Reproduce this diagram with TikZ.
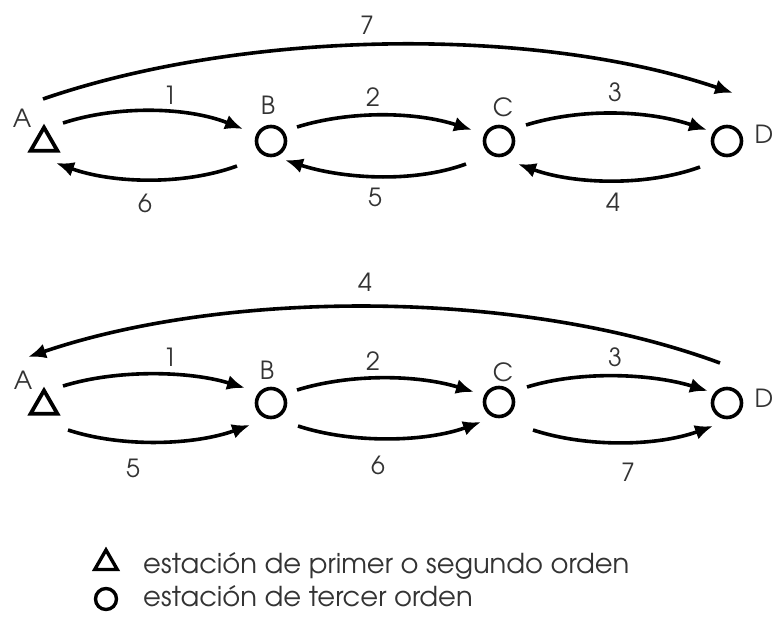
\documentclass[tikz,border=0pt]{standalone}
\usepackage{fontspec}
\setmainfont{texgyreadventor-regular.otf}
\usetikzlibrary{arrows.meta,shapes.geometric,calc}
\begin{document}
\begin{tikzpicture}[x=1pt,y=-1pt,
  tri/.style={draw,line width=3.8pt,regular polygon,regular polygon sides=3,minimum size=31pt,inner sep=0pt},
  stn/.style={draw,line width=3.6pt,circle,minimum size=29pt,inner sep=0pt},
  arr/.style={line width=3.6pt,-{Latex[length=18pt,width=15pt]}},
  lbl/.style={font=\fontsize{25}{25}\selectfont,text=black!80,inner sep=0pt},
  num/.style={font=\fontsize{25}{25}\selectfont,text=black!80,inner sep=0pt},
  leg/.style={font=\fontsize{27.4}{27.4}\selectfont,text=black!80,inner sep=0pt,anchor=base west}]
\useasboundingbox (0,0) rectangle (774,624);
% ---- top diagram ----
\node[tri] (A) at (44,143) {};
\node[stn] (B) at (271,141) {};
\node[stn] (C) at (499,141) {};
\node[stn] (D) at (727,141) {};
\node[lbl] (lA) at (22,118) {A};
\node[lbl] (lB) at (268,105) {B};
\node[lbl] (lC) at (503,107) {C};
\node[lbl] (lD) at (764,134) {D};
\draw[arr] ($(A)+(19,-20)$) .. controls +(55,-18) and +(-55,-22) .. ($(B)+(-28,-12)$);
\draw[arr] ($(B)+(26,-14)$) .. controls +(55,-17) and +(-55,-18) .. ($(C)+(-27,-11)$);
\draw[arr] ($(C)+(27,-16)$) .. controls +(55,-17) and +(-60,-20) .. ($(D)+(-20,-11)$);
\draw[arr] ($(D)+(-27,26)$) .. controls +(-55,20) and +(55,20) .. ($(C)+(19,23)$);
\draw[arr] ($(C)+(-33,23)$) .. controls +(-55,20) and +(55,18) .. ($(B)+(14,19)$);
\draw[arr] ($(B)+(-34,25)$) .. controls +(-55,20) and +(55,20) .. ($(A)+(12,20)$);
\draw[arr] ($(A)+(-1,-44)$) .. controls +(200,-69) and +(-200,-68) .. ($(D)+(6,-48)$);
\node[num] (n1) at (170,95) {1};
\node[num] (n2) at (373,97) {2};
\node[num] (n3) at (615,92) {3};
\node[num] (n4) at (613,202) {4};
\node[num] (n5) at (375,197) {5};
\node[num] (n6) at (145,203) {6};
\node[num] (n7) at (367,25) {7};
% ---- bottom diagram ----
\node[tri] (A2) at (44,406) {};
\node[stn] (B2) at (271,403) {};
\node[stn] (C2) at (499,402) {};
\node[stn] (D2) at (727,403) {};
\node[lbl] (lA2) at (23,380) {A};
\node[lbl] (lB2) at (267,370) {B};
\node[lbl] (lC2) at (503,372) {C};
\node[lbl] (lD2) at (764,398) {D};
\draw[arr] ($(A2)+(19,-20)$) .. controls +(55,-17) and +(-55,-17) .. ($(B2)+(-26,-15)$);
\draw[arr] ($(B2)+(26,-13)$) .. controls +(55,-17) and +(-55,-17) .. ($(C2)+(-25,-10)$);
\draw[arr] ($(C2)+(28,-15)$) .. controls +(55,-17) and +(-55,-17) .. ($(D2)+(-19,-12)$);
\draw[arr] ($(A2)+(24,24)$) .. controls +(55,18) and +(-55,20) .. ($(B2)+(-21,22)$);
\draw[arr] ($(B2)+(27,23)$) .. controls +(55,18) and +(-55,20) .. ($(C2)+(-18,20)$);
\draw[arr] ($(C2)+(34,28)$) .. controls +(55,18) and +(-55,20) .. ($(D2)+(-14,23)$);
\draw[arr] ($(D2)+(-7,-40)$) .. controls +(-200,-74) and +(200,-68) .. ($(A2)+(-16,-49)$);
\node[num] (m1) at (170,357) {1};
\node[num] (m2) at (373,361) {2};
\node[num] (m3) at (615,357) {3};
\node[num] (m4) at (365,282) {4};
\node[num] (m5) at (133,468) {5};
\node[num] (m6) at (378,465) {6};
\node[num] (m7) at (628,472) {7};
% ---- legend ----
\node[draw,line width=3.4pt,regular polygon,regular polygon sides=3,minimum size=26pt,inner sep=0pt] (ltri) at (106,563) {};
\node[draw,line width=3.4pt,circle,minimum size=21pt,inner sep=0pt] (lcirc) at (106,599) {};
\node[leg] (t1) at (143,573) {estación de primer o segundo orden};
\node[leg] (t2) at (143,606) {estación de tercer orden};
\end{tikzpicture}
\end{document}
